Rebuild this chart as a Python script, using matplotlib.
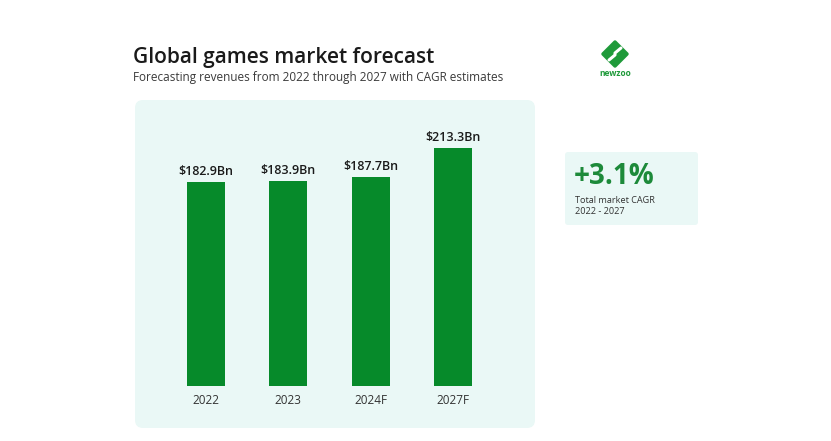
import matplotlib.pyplot as plt
from matplotlib.patches import FancyBboxPatch, Polygon

# chart data
years = ["2022", "2023", "2024F", "2027F"]
revenue = [182.9, 183.9, 187.7, 213.3]
value_labels = ["$182.9Bn", "$183.9Bn", "$187.7Bn", "$213.3Bn"]
cagr_text = "+3.1%"
cagr_note = "Total market CAGR\n2022 - 2027"

title = "Global games market forecast"
subtitle = "Forecasting revenues from 2022 through 2027 with CAGR estimates"

green = "#068a2a"
mint = "#eaf8f6"
dark = "#1a1a1a"

plt.rcParams["font.family"] = ["Open Sans", "DejaVu Sans"]

fig = plt.figure(figsize=(8.31, 4.41), dpi=100)
fig.patch.set_facecolor("white")

# background layer in pixel coords
bg = fig.add_axes([0, 0, 1, 1])
bg.set_xlim(0, 831)
bg.set_ylim(441, 0)
bg.axis("off")

bg.add_patch(FancyBboxPatch((139, 104), 392, 320, boxstyle="round,pad=4,rounding_size=8",
                            facecolor=mint, edgecolor="none"))
bg.add_patch(FancyBboxPatch((567, 154), 129, 69, boxstyle="round,pad=2,rounding_size=3",
                            facecolor=mint, edgecolor="none"))

bg.text(133, 57, title, fontsize=15, fontweight="semibold", color=dark, va="center", ha="left")
bg.text(133, 78, subtitle, fontsize=8.5, color="#3a3a3a", va="center", ha="left")

bg.text(574, 177, cagr_text, fontsize=20, fontweight="bold", color="#1d8a3a", va="center", ha="left")
bg.text(575, 206, cagr_note, fontsize=6.6, color="#333333", va="center", ha="left", linespacing=1.25)

# newzoo logo
bg.add_patch(Polygon([(615, 42), (627, 54), (615, 66), (603, 54)], closed=True,
                     facecolor="#1f9a3a", edgecolor="#1f9a3a", linewidth=2.5, joinstyle="round"))
bg.plot([609, 615, 615, 621], [60, 55, 53, 48], color="white", linewidth=2.2, solid_capstyle="round")
bg.text(615, 74, "newzoo", fontsize=6, fontweight="bold", color="#1f9a3a", ha="center", va="center")

# bar chart
ax = fig.add_axes([0.1976, 0.1247, 0.3976, 0.6063])
ax.patch.set_alpha(0)
x = range(len(years))
bars = ax.bar(x, revenue, width=0.46, color=green)
ax.set_xlim(-0.5, 3.5)
ax.set_ylim(0, 240)
for b, lab in zip(bars, value_labels):
    ax.annotate(lab, (b.get_x() + b.get_width() / 2, b.get_height()), xytext=(0, 3),
                textcoords="offset points", ha="center", va="bottom",
                fontsize=9, fontweight="semibold", color=dark)
ax.set_xticks(list(x))
ax.set_xticklabels(years, fontsize=8.5, color="#333333")
ax.tick_params(axis="x", length=0, pad=6)
ax.set_yticks([])
for s in ax.spines.values():
    s.set_visible(False)

fig.savefig("out.png", dpi=100)
